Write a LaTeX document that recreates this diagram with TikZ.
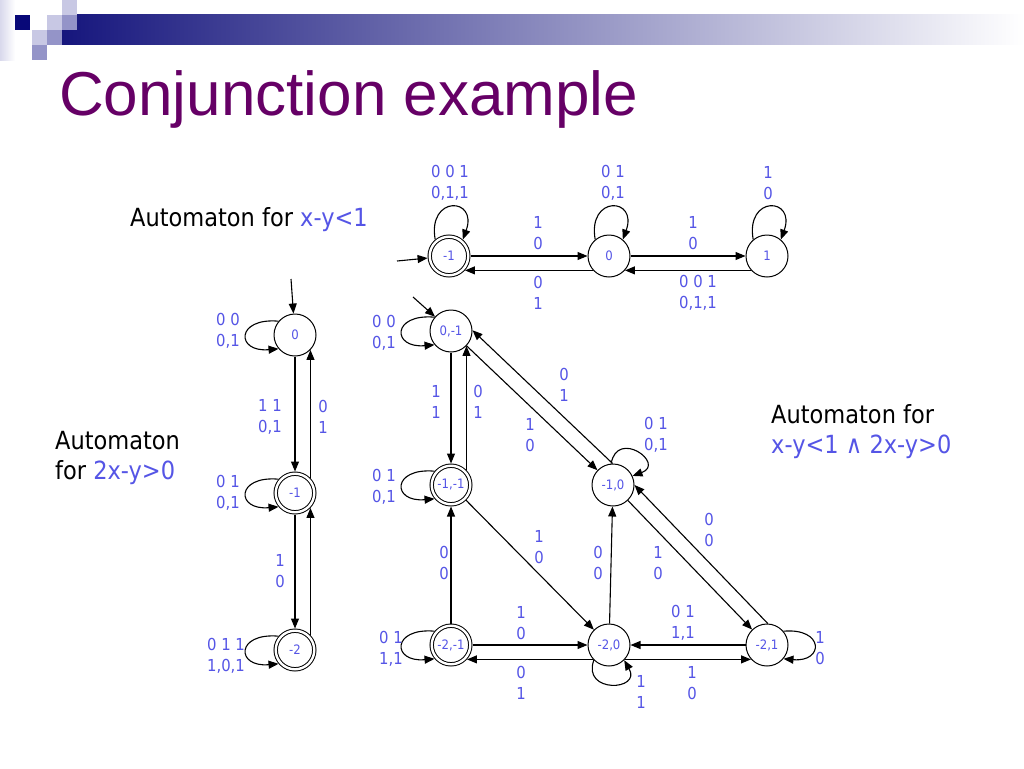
\documentclass[tikz,border=0pt]{standalone}
\usepackage{fontspec}
\setmainfont[FakeStretch=0.9]{DejaVu Sans}
\newfontfamily\titlefont{Liberation Sans}
\usetikzlibrary{positioning}
\usetikzlibrary{arrows.meta}

\definecolor{lblue}{RGB}{85,85,230}
\definecolor{ttlpurple}{RGB}{102,0,102}
\definecolor{barnavy}{RGB}{22,22,125}
\definecolor{sqdark}{RGB}{8,8,120}
\definecolor{sqlight}{RGB}{200,200,228}
\definecolor{sqmid}{RGB}{148,148,200}

\tikzset{
  st/.style={circle,draw,line width=1pt,minimum size=42pt,inner sep=0pt,text=lblue,font=\fontsize{13}{13}\selectfont},
  acc/.style={st,double,double distance=2.4pt,minimum size=38.6pt,outer sep=2.2pt},
  lbl/.style={text=lblue,align=center,inner sep=0pt,font=\fontsize{16.5}{20.5}\selectfont},
  txt/.style={anchor=base west,inner sep=0pt,font=\fontsize{25}{30}\selectfont},
  tr/.style={->,line width=1.1pt},
  lpleft/.style={out=175,in=185,looseness=4},
  lpabove/.style={out=100,in=70,looseness=4.2},
  lpright/.style={out=5,in=-5,looseness=3.8},
  lpne/.style={out=80,in=20,looseness=3.7},
  lpbelow/.style={out=250,in=-60,looseness=3}
}

\begin{document}
\begin{tikzpicture}[x=1pt,y=-1pt,>={Triangle[length=10pt,width=8pt]},on grid]
    \useasboundingbox (0,0) rectangle (1024,768);
    \fill[white] (0,0) rectangle (1024,768);

    % slide header
    \shade[left color=sqlight!70,right color=white] (0,0) rectangle (15,60);
    \shade[left color=barnavy,right color=white] (62,15) rectangle (1024,45);
    \fill[sqdark] (15,15) rectangle (30,30);
    \fill[sqlight] (62,0) rectangle (77,15);
    \fill[sqlight] (47,15) rectangle (62,30);
    \fill[sqmid] (62,15) rectangle (77,30);
    \fill[sqlight] (32,30) rectangle (47,45);
    \fill[sqmid] (47,30) rectangle (62,45);
    \fill[sqmid] (32,45) rectangle (47,60);
    \node[anchor=base west,inner sep=0pt,text=ttlpurple,font=\titlefont\fontsize{62}{70}\selectfont] (title) at (59,115) {Conjunction example};

    % automaton for x-y<1
    \node[txt] (capT) at (130,226) {Automaton for \textcolor{lblue}{x-y<1}};
    \node[acc] (tA) at (449,256) {-1};
    \node[st] (tB) [right=160pt of tA] {0};
    \node[st] (tC) [right=158pt of tB] {1};
    \coordinate (inT) at (397,261);

    \draw [tr] (inT) -- (tA);
    \draw [tr] (tA) -- (tB);
    \draw [tr] (tB.222) -- (tA.318);
    \draw [tr] (tB) -- (tC);
    \draw [tr] (tC.222) -- (tB.318);
    \draw [tr] (tA.130) to[lpabove] (tA.50);
    \draw [tr] (tB.130) to[lpabove] (tB.50);
    \draw [tr] (tC.130) to[lpabove] (tC.50);

    \node[lbl] (tl1) at (450,183) {0 0 1\\0,1,1};
    \node[lbl] (tl2) at (613,183) {0 1\\0,1};
    \node[lbl] (tl3) at (768,183) {1\\0};
    \node[lbl] (tl4) at (538,233) {1\\0};
    \node[lbl] (tl5) at (538,293) {0\\1};
    \node[lbl] (tl6) at (693,233) {1\\0};
    \node[lbl] (tl7) at (698,293) {0 0 1\\0,1,1};

    % automaton for 2x-y>0
    \node[txt] (capL1) at (55,449) {Automaton};
    \node[txt] (capL2) at (55,479) {for \textcolor{lblue}{2x-y>0}};
    \node[st] (lA) at (295,335) {0};
    \node[acc] (lB) [below=158pt of lA] {-1};
    \node[acc] (lC) [below=157pt of lB] {-2};
    \coordinate (inL) at (291,279);

    \draw [tr] (inL) -- (lA);
    \draw [tr] (lA) -- (lB);
    \draw [tr] (lB.44) -- (lA.316);
    \draw [tr] (lB) -- (lC);
    \draw [tr] (lC.44) -- (lB.316);
    \draw [tr] (lA.140) to[lpleft] (lA.220);
    \draw [tr] (lB.140) to[lpleft] (lB.220);
    \draw [tr] (lC.140) to[lpleft] (lC.220);

    \node[lbl] (ll1) at (228,331) {0 0\\0,1};
    \node[lbl] (ll2) at (270,417) {1 1\\0,1};
    \node[lbl] (ll3) at (323,417) {0\\1};
    \node[lbl] (ll4) at (228,493) {0 1\\0,1};
    \node[lbl] (ll5) at (280,571) {1\\0};
    \node[lbl] (ll6) at (226,656) {0 1 1\\1,0,1};

    % product automaton
    \node[txt] (capR1) at (771,423) {Automaton for};
    \node[txt] (capR2) at (771,453) {\textcolor{lblue}{x-y<1 ∧ 2x-y>0}};
    \node[st] (A) at (451,331) {0,-1};
    \node[acc] (B) [below=154pt of A] {-1,-1};
    \node[st] (C) [right=162pt of B] {-1,0};
    \node[acc] (D) [below=160pt of B] {-2,-1};
    \node[st] (E) [right=158pt of D] {-2,0};
    \node[st] (F) [right=158pt of E] {-2,1};
    \coordinate (inM) at (413,297);

    \draw [tr] (inM) -- (A);
    \draw [tr] (A) -- (B);
    \draw [tr] (B.44) -- (A.316);
    \draw [tr] (A) -- (C);
    \draw [tr] (C.91) -- (A.2);
    \draw [tr] (B) -- (E);
    \draw [tr] (D) -- (B);
    \draw [tr] (E) -- (C);
    \draw [tr] (C) -- (F);
    \draw [tr] (F.88) -- (C.0);
    \draw [tr] (D) -- (E);
    \draw [tr] (E.222) -- (D.318);
    \draw [tr] (F) -- (E);
    \draw [tr] (E.318) -- (F.222);
    \draw [tr] (A.140) to[lpleft] (A.220);
    \draw [tr] (B.140) to[lpleft] (B.220);
    \draw [tr] (D.140) to[lpleft] (D.220);
    \draw [tr] (C.95) to[lpne] (C.25);
    \draw [tr] (E.225) to[lpbelow] (E.-45);
    \draw [tr] (F.40) to[lpright] (F.-40);

    \node[lbl] (m1) at (384,333) {0 0\\0,1};
    \node[lbl] (m2) at (436,402) {1\\1};
    \node[lbl] (m3) at (478,402) {0\\1};
    \node[lbl] (m4) at (564,385) {0\\1};
    \node[lbl] (m5) at (530,435) {1\\0};
    \node[lbl] (m6) at (656,435) {0 1\\0,1};
    \node[lbl] (m7) at (384,487) {0 1\\0,1};
    \node[lbl] (m8) at (444,563) {0\\0};
    \node[lbl] (m9) at (539,547) {1\\0};
    \node[lbl] (m10) at (598,563) {0\\0};
    \node[lbl] (m11) at (658,563) {1\\0};
    \node[lbl] (m12) at (709,530) {0\\0};
    \node[lbl] (m13) at (521,623) {1\\0};
    \node[lbl] (m14) at (521,683) {0\\1};
    \node[lbl] (m15) at (391,649) {0 1\\1,1};
    \node[lbl] (m16) at (641,692) {1\\1};
    \node[lbl] (m17) at (683,623) {0 1\\1,1};
    \node[lbl] (m18) at (692,683) {1\\0};
    \node[lbl] (m19) at (820,648) {1\\0};
\end{tikzpicture}
\end{document}
